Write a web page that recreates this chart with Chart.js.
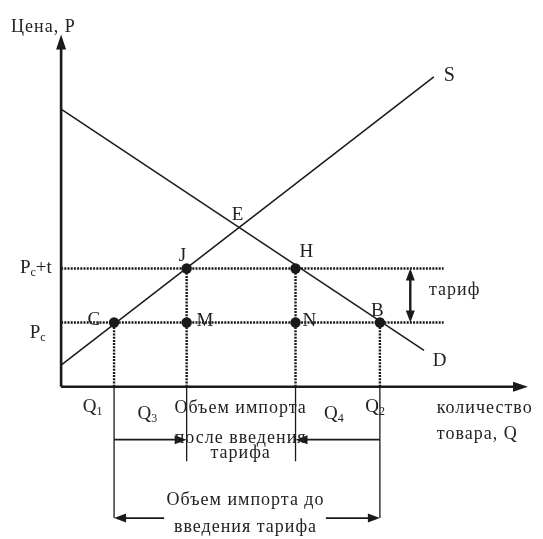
<!DOCTYPE html>
<html>
<head>
<meta charset="utf-8">
<script src="https://cdn.jsdelivr.net/npm/chart.js@4.4.0/dist/chart.umd.min.js"></script>
<style>
  html, body { margin: 0; padding: 0; background: #fff; }
  #wrap { width: 543px; height: 539px; position: relative; }
</style>
</head>
<body>
<div id="wrap"><canvas id="grafico"></canvas></div>
<script>
'use strict';

// units: Q to the right of the price axis, P above the quantity axis
const Pc = 65.5;
const Pct = 120.5;          // Pc + t
const Q1 = 54, Q3 = 128, Q4 = 239, Q2 = 325;

const supplyQ = [0, 380];
const supplyP = [22, 316];
const demandQ = [0, 370];
const demandP = [283, 37];

const axisQ = [0, 476];     // quantity axis end (arrow tip)
const axisP = [0, 359];     // price axis end (arrow tip)
const dottedEnd = 390;      // right end of the price guide lines
const tariffQ = 356;        // double arrow "тариф"

const lowShort = -76;       // Q3 / Q4 drop lines
const lowLong = -134;       // Q1 / Q2 drop lines
const arrowRowA = -54;      // "после введения тарифа" arrows
const arrowRowB = -134;     // "до введения тарифа" arrow
const gapB = [105, 270];    // text gap in the lower arrow

const pointNames = ['C', 'J', 'M', 'H', 'N', 'B'];
const pointQ = [Q1, Q3, Q3, Q4, Q4, Q2];
const pointP = [Pc, Pct, Pc, Pct, Pc, Pc];

// text: [text, q, p, size, align]
const labels = [
  ['Цена, P', -51, 362, 18, 'left'],
  ['S', 390, 312, 20, 'left'],
  ['E', 174, 170, 19, 'left'],
  ['J', 120, 128, 19, 'left'],
  ['H', 243, 132, 19, 'left'],
  ['C', 27, 63, 19, 'left'],
  ['M', 138, 62, 19, 'left'],
  ['N', 246, 62, 19, 'left'],
  ['B', 316, 72, 19, 'left'],
  ['D', 379, 21, 19, 'left'],
  ['тариф', 375, 94, 18, 'left'],
  ['Объем импорта', 183, -27, 18, 'center'],
  ['после введения', 183, -57, 18, 'center'],
  ['тарифа', 183, -73, 18, 'center'],
  ['количество', 383, -27, 18, 'left'],
  ['товара, Q', 383, -53, 18, 'left'],
  ['Объем импорта до', 188, -121, 18, 'center'],
  ['введения тарифа', 188, -148, 18, 'center']
];
// subscripted labels: [main, sub, tail, q, p]
const subLabels = [
  ['P', 'c', '+t', -42, 116],
  ['P', 'c', '', -32, 50],
  ['Q', '1', '', 22, -26],
  ['Q', '3', '', 78, -33],
  ['Q', '4', '', 268, -33],
  ['Q', '2', '', 310, -26]
];

const INK = '#1a1a1a';
const FONT = "'Liberation Serif', 'Times New Roman', serif";

function seg(pts, width, dash) {
  return {
    type: 'line',
    data: pts.map(p => ({ x: p[0], y: p[1] })),
    borderColor: INK,
    borderWidth: width,
    borderDash: dash || [],
    pointRadius: 0,
    fill: false,
    tension: 0,
    clip: false
  };
}

const datasets = [
  // axes
  seg([[axisQ[0], 0], [axisQ[1] - 10, 0]], 2.6),
  seg([[0, axisP[0]], [0, axisP[1] - 10]], 2.6),
  // supply, demand
  seg([[supplyQ[0], supplyP[0]], [supplyQ[1], supplyP[1]]], 1.5),
  seg([[demandQ[0], demandP[0]], [demandQ[1], demandP[1]]], 1.5),
  // dotted price lines
  seg([[0, Pc], [dottedEnd, Pc]], 2.4, [2, 1.2]),
  seg([[0, Pct], [dottedEnd, Pct]], 2.4, [2, 1.2]),
  // dotted drop lines
  seg([[Q1, 0], [Q1, Pc]], 2.4, [2, 1.2]),
  seg([[Q3, 0], [Q3, Pct]], 2.4, [2, 1.2]),
  seg([[Q4, 0], [Q4, Pct]], 2.4, [2, 1.2]),
  seg([[Q2, 0], [Q2, Pc]], 2.4, [2, 1.2]),
  // solid lines below the axis
  seg([[Q1, 0], [Q1, lowLong]], 1.3),
  seg([[Q3, 0], [Q3, lowShort]], 1.3),
  seg([[Q4, 0], [Q4, lowShort]], 1.3),
  seg([[Q2, 0], [Q2, lowLong]], 1.3),
  // import arrows
  seg([[Q1, arrowRowA], [Q3 - 10, arrowRowA]], 1.8),
  seg([[Q2, arrowRowA], [Q4 + 10, arrowRowA]], 1.8),
  seg([[Q1 + 10, arrowRowB], [gapB[0], arrowRowB]], 1.8),
  seg([[gapB[1], arrowRowB], [Q2 - 10, arrowRowB]], 1.8),
  // tariff arrow
  seg([[tariffQ, Pc + 9], [tariffQ, Pct - 9]], 2.4),
  // points
  {
    type: 'scatter',
    data: pointQ.map((q, i) => ({ x: q, y: pointP[i] })),
    pointRadius: 5.2,
    pointBackgroundColor: INK,
    pointBorderWidth: 0,
    showLine: false,
    clip: false
  }
];

// arrowheads: [tipQ, tipP, dirQ, dirP, length, halfWidth]
const heads = [
  [axisQ[1], 0, 1, 0, 15, 5],
  [0, axisP[1], 0, 1, 15, 5],
  [Q3, arrowRowA, 1, 0, 12, 4.5],
  [Q4, arrowRowA, -1, 0, 12, 4.5],
  [Q1, arrowRowB, -1, 0, 12, 4.5],
  [Q2, arrowRowB, 1, 0, 12, 4.5],
  [tariffQ, Pct, 0, 1, 12, 4.5],
  [tariffQ, Pc, 0, -1, 12, 4.5]
];

const decor = {
  id: 'decor',
  afterDatasetsDraw(chart) {
    const ctx = chart.ctx;
    const xs = chart.scales.x, ys = chart.scales.y;
    ctx.save();
    ctx.fillStyle = INK;
    heads.forEach(h => {
      const tx = xs.getPixelForValue(h[0]);
      const ty = ys.getPixelForValue(h[1]);
      const dx = h[2], dy = -h[3];
      const bx = tx - dx * h[4], by = ty - dy * h[4];
      ctx.beginPath();
      ctx.moveTo(tx, ty);
      ctx.lineTo(bx - dy * h[5], by + dx * h[5]);
      ctx.lineTo(bx + dy * h[5], by - dx * h[5]);
      ctx.closePath();
      ctx.fill();
    });

    ctx.textBaseline = 'alphabetic';
    ctx.fillStyle = '#222';
    labels.forEach(l => {
      ctx.font = l[3] + 'px ' + FONT;
      ctx.letterSpacing = l[0].length > 3 ? '1px' : '0px';
      ctx.textAlign = l[4];
      ctx.fillText(l[0], xs.getPixelForValue(l[1]), ys.getPixelForValue(l[2]));
    });
    ctx.letterSpacing = '0px';
    ctx.textAlign = 'left';
    subLabels.forEach(s => {
      let x = xs.getPixelForValue(s[3]);
      const y = ys.getPixelForValue(s[4]);
      ctx.font = '19px ' + FONT;
      ctx.fillText(s[0], x, y);
      x += ctx.measureText(s[0]).width;
      ctx.font = '12px ' + FONT;
      ctx.fillText(s[1], x, y + 3);
      x += ctx.measureText(s[1]).width;
      if (s[2]) {
        ctx.font = '19px ' + FONT;
        ctx.fillText(s[2], x, y);
      }
    });
    ctx.restore();
  }
};

new Chart(document.getElementById('grafico').getContext('2d'), {
  type: 'line',
  data: { datasets: datasets },
  options: {
    responsive: true,
    maintainAspectRatio: false,
    animation: false,
    layout: { padding: 0 },
    plugins: { legend: { display: false }, tooltip: { enabled: false } },
    scales: {
      x: { type: 'linear', min: -57, max: 486, display: false },
      y: { type: 'linear', min: -150, max: 389, display: false }
    }
  },
  plugins: [decor]
});
</script>
</body>
</html>
